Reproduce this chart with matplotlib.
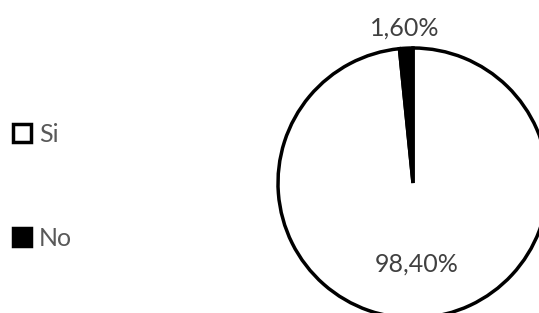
import numpy as np
import matplotlib.pyplot as plt

etichete = ["Si", "No"]
valori = [98.4, 1.6]
culori = ["white", "black"]

plt.rcParams['font.family'] = ['Lato', 'DejaVu Sans']

fig = plt.figure(figsize=(5.39, 3.13), dpi=100)
# pie centru ~ (413,183) px, raza ~135 px
ax = fig.add_axes([278 / 539, -5 / 313, 270 / 539, 270 / 313])

def fmt(p):
    return f"{p:.2f}%".replace(".", ",")

wedges, texts, autotexts = ax.pie(valori, colors=culori, startangle=90, counterclock=False,
                                  autopct=fmt, pctdistance=0.6,
                                  wedgeprops=dict(edgecolor="black", linewidth=2.5),
                                  textprops=dict(color="#404040", fontsize=18))
ax.set_xlim(-1, 1)
ax.set_ylim(-1, 1)
ax.set_aspect("equal")

# eticheta felie mica in afara cercului
w = wedges[1]
unghi = np.deg2rad((w.theta1 + w.theta2) / 2)
autotexts[1].set_position((1.15 * np.cos(unghi), 1.15 * np.sin(unghi)))
for t in autotexts:
    t.set_clip_on(False)

fig.legend(wedges, etichete, loc="center left", bbox_to_anchor=(0.0, 0.405),
           frameon=False, labelspacing=3.25, handlelength=0.75, handleheight=0.75,
           handletextpad=0.3, borderaxespad=0.1, fontsize=18, labelcolor="#595959")

plt.savefig("out.png", dpi=100)
